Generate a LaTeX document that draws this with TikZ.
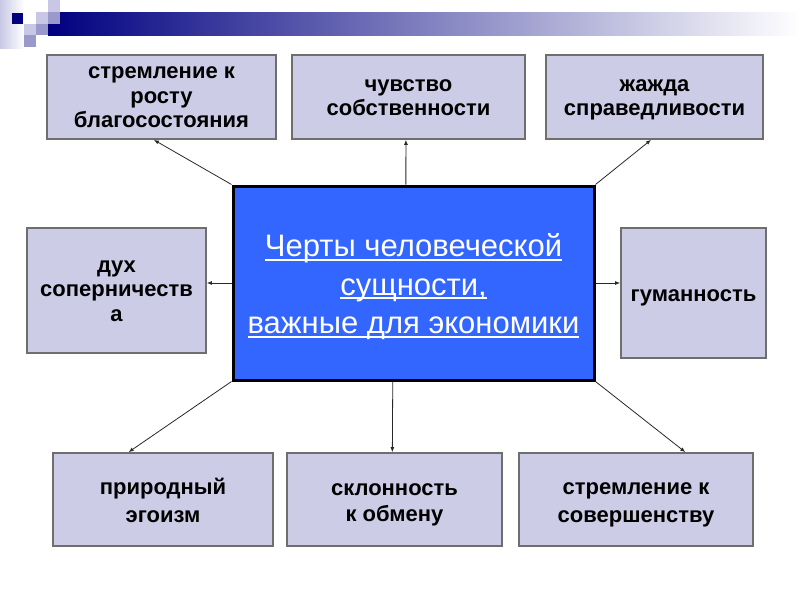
\documentclass[tikz,border=0pt]{standalone}
\usepackage{fontspec}
\setmainfont{Liberation Sans}
\usetikzlibrary{calc,arrows.meta}
\definecolor{boxfill}{RGB}{204,204,230}
\definecolor{boxline}{RGB}{110,110,110}
\definecolor{cfill}{RGB}{51,102,255}
\definecolor{navy}{RGB}{0,0,128}
\definecolor{lav}{RGB}{200,200,230}
\definecolor{midlav}{RGB}{153,153,204}
\newcommand\myul[1]{\setbox0\hbox{#1}\rlap{\rule[-4pt]{\wd0}{1.8pt}}\box0}
\newcommand\tstr[2]{\rule[-#1]{0pt}{#2}}
\newcommand\ta{\tstr{5.95pt}{24.5pt}}
\newcommand\tb{\tstr{3.45pt}{24.5pt}}
\newcommand\tc{\tstr{3.7pt}{26pt}}
\newcommand\td{\tstr{7.25pt}{38.5pt}}
\tikzset{
  box/.style={draw=boxline, line width=1.8pt, fill=boxfill, align=center,
    font=\bfseries\fontsize{22}{24.5}\selectfont, inner sep=0pt},
  lowbox/.style={box, font=\bfseries\fontsize{22}{26}\selectfont},
  cbox/.style={draw=black, line width=3pt, fill=cfill, align=center, text=white,
    font=\fontsize{31}{38.5}\selectfont, inner sep=0pt},
  arr/.style={draw={rgb,255:red,40;green,40;blue,40}, line width=0.8pt, -{Latex[length=5pt,width=4pt]}}
}
\begin{document}
\begin{tikzpicture}[x=1pt,y=-1pt]
\useasboundingbox (0,0) rectangle (800,600);
% header decoration
\shade[left color=lav, right color=white] (0,0) rectangle (24,48);
\shade[left color=navy, right color=white] (48,12) rectangle (800,35);
\fill[navy] (12,13) rectangle (23,24);
\fill[lav] (36,12) rectangle (48,24);
\fill[midlav] (48,12) rectangle (60,24);
\fill[lav] (48,0) rectangle (60,12);
\fill[lav] (24,24) rectangle (36,35);
\fill[midlav] (36,24) rectangle (48,35);
\fill[midlav] (24,35) rectangle (36,47);
% boxes
\node[box, minimum width=229pt, minimum height=84pt] (tl) at (161.5,97) {\ta стремление к\\росту\\благосостояния\ta};
\node[box, minimum width=233pt, minimum height=84pt] (tm) at (408.5,97) {\ta чувство\\собственности\ta};
\node[box, minimum width=217pt, minimum height=84pt] (tr) at (654.5,97) {\ta жажда\\справедливости\ta};
\node[box, minimum width=179pt, minimum height=125pt] (ml) at (116.5,290.5) {\ta дух\\соперничеств\\а\ta};
\node[box, minimum width=145pt, minimum height=130pt] (mr) at (693.5,293) {\tb гуманность\tb};
\node[lowbox, minimum width=220pt, minimum height=93pt] (bl) at (163,499.5) {\tc природный\\эгоизм\tc};
\node[lowbox, minimum width=215pt, minimum height=93pt] (bm) at (394.5,499.5) {\tc склонность\\к обмену\tc};
\node[lowbox, minimum width=234pt, minimum height=93pt] (br) at (636,499.5) {\tc стремление к\\совершенству\tc};
\node[cbox, minimum width=361pt, minimum height=194pt] (c) at (413.5,283)
  {\td\myul{Черты человеческой}\\\myul{сущности,}\\\myul{важные для экономики}\td};
% connectors
\draw[arr] (c.north west) -- ($(tl.south west)!0.467!(tl.south east)$);
\draw[arr] ($(c.north west)!0.479!(c.north east)$) -- ($(tm.south west)!0.489!(tm.south east)$);
\draw[arr] (c.north east) -- ($(tr.south west)!0.484!(tr.south east)$);
\draw[arr] (c.west) -- (ml.east |- c.west);
\draw[arr] (c.east) -- (mr.west |- c.east);
\draw[arr] (c.south west) -- ($(bl.north west)!0.345!(bl.north east)$);
\draw[arr] ($(c.south west)!0.443!(c.south east)$) -- ($(bm.north west)!0.49!(bm.north east)$);
\draw[arr] (c.south east) -- ($(br.north west)!0.709!(br.north east)$);
\end{tikzpicture}
\end{document}
